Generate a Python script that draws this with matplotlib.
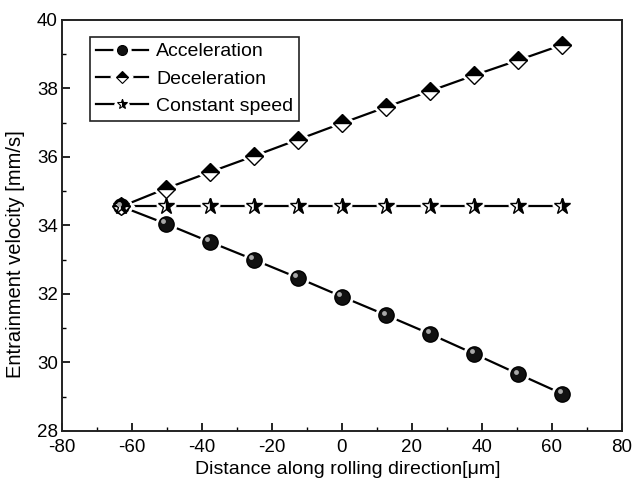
import matplotlib
matplotlib.use("Agg")
import matplotlib.pyplot as plt
from matplotlib.ticker import MultipleLocator
from matplotlib.transforms import offset_copy
from matplotlib.lines import Line2D
from matplotlib.legend_handler import HandlerTuple

plt.rcParams['font.family'] = ['Liberation Sans', 'DejaVu Sans']
plt.rcParams['axes.unicode_minus'] = False

x = [-63, -50.4, -37.8, -25.2, -12.6, 0, 12.6, 25.2, 37.8, 50.4, 63]
accel = [34.55, 34.05, 33.52, 33.00, 32.47, 31.92, 31.38, 30.83, 30.25, 29.66, 29.08]
decel = [34.55, 35.07, 35.55, 36.02, 36.50, 36.98, 37.45, 37.92, 38.38, 38.82, 39.27]
const = [34.55] * 11

labels = ['Acceleration', 'Deceleration', 'Constant speed']

fig = plt.figure(figsize=(6.32, 4.82), dpi=100)
ax = fig.add_axes([0.098, 0.106, 0.886, 0.853])

lw = 1.6
styles = [
    dict(marker='o', ms=11, fillstyle='full', markerfacecolor='#111111',
         markerfacecoloralt='#111111'),
    dict(marker='D', ms=9, fillstyle='top', markerfacecolor='black',
         markerfacecoloralt='white'),
    dict(marker='*', ms=12, fillstyle='right', markerfacecolor='black',
         markerfacecoloralt='white'),
]
series = [accel, decel, const]

for ys, st in zip(series, styles):
    ax.plot(x, ys, color='black', lw=lw, zorder=2)
    ax.plot(x, ys, ls='none', marker=st['marker'], ms=st['ms'],
            markerfacecolor='white', markeredgecolor='white',
            markeredgewidth=5, zorder=2.5)
    ax.plot(x, ys, ls='none', markeredgecolor='black', markeredgewidth=1.0,
            zorder=3, **st)

# highlight on spheres
hl_tr = offset_copy(ax.transData, fig=fig, x=-2.5, y=2.5, units='dots')
ax.plot(x, accel, ls='none', marker='o', ms=3.5, markerfacecolor='#a8a8a8',
        markeredgecolor='none', zorder=4, transform=hl_tr)

# legend handles with gaps around markers
handles = []
for st in styles:
    ln = Line2D([], [], color='black', lw=lw)
    halo = Line2D([], [], ls='none', marker=st['marker'], ms=st['ms'] * 0.65,
                  markerfacecolor='white', markeredgecolor='white', markeredgewidth=6)
    mk = Line2D([], [], ls='none', markeredgecolor='black', markeredgewidth=0.8,
                marker=st['marker'], ms=st['ms'] * 0.65, fillstyle=st['fillstyle'],
                markerfacecolor=st['markerfacecolor'],
                markerfacecoloralt=st['markerfacecoloralt'])
    handles.append((ln, halo, mk))

ax.set_xlim(-80, 80)
ax.set_ylim(28, 40)
ax.xaxis.set_major_locator(MultipleLocator(20))
ax.xaxis.set_minor_locator(MultipleLocator(10))
ax.yaxis.set_major_locator(MultipleLocator(2))
ax.yaxis.set_minor_locator(MultipleLocator(1))
ax.tick_params(which='both', direction='in', top=False, right=False, labelsize=13.5)
ax.tick_params(which='major', length=6, width=1.2)
ax.tick_params(which='minor', length=3, width=1.0)
ax.tick_params(axis='x', pad=6)
ax.tick_params(axis='y', pad=3)
for s in ax.spines.values():
    s.set_linewidth(1.4)
    s.set_color('#222222')

ax.set_xlabel('Distance along rolling direction[μm]', fontsize=14)
ax.set_ylabel('Entrainment velocity [mm/s]', fontsize=14.5)
ax.xaxis.set_label_coords(0.51, -0.072)
ax.yaxis.set_label_coords(-0.066, 0.43)

leg = ax.legend(handles, labels, handler_map={tuple: HandlerTuple(ndivide=1, pad=0)},
                loc='upper left', bbox_to_anchor=(0.05, 0.958), fontsize=14,
                fancybox=False, edgecolor='#222222', framealpha=1, borderpad=0.3,
                labelspacing=0.5, handlelength=2.7, handletextpad=0.4,
                borderaxespad=0)
leg.get_frame().set_linewidth(1.2)

fig.savefig('out.png', dpi=100)
